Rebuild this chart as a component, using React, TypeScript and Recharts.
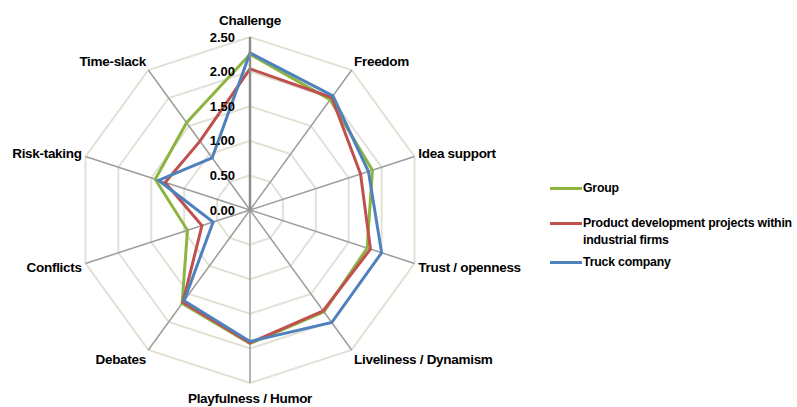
import React from 'react';
import {
  RadarChart,
  Radar,
  PolarGrid,
  PolarAngleAxis,
  PolarRadiusAxis,
  Legend,
} from 'recharts';

const categories = [
  'Challenge',
  'Freedom',
  'Idea support',
  'Trust / openness',
  'Liveliness / Dynamism',
  'Playfulness / Humor',
  'Debates',
  'Conflicts',
  'Risk-taking',
  'Time-slack',
];

const groupValues = [2.25, 1.97, 1.86, 1.78, 1.82, 1.93, 1.67, 0.95, 1.44, 1.56];
const productDevValues = [2.04, 2.01, 1.68, 1.83, 1.8, 1.92, 1.65, 0.73, 1.29, 1.23];
const truckValues = [2.27, 2.04, 1.8, 2.0, 2.01, 1.9, 1.62, 0.56, 1.39, 0.93];

const radiusTicks = [0, 0.5, 1, 1.5, 2, 2.5];

const series = [
  { key: 'group', name: 'Group', color: '#8DB440' },
  { key: 'product', name: 'Product development projects within industrial firms', color: '#C0504D' },
  { key: 'truck', name: 'Truck company', color: '#4F81BD' },
];

const data = categories.map((subject, i) => ({
  subject,
  group: groupValues[i],
  product: productDevValues[i],
  truck: truckValues[i],
}));

const CX = 250;
const CY = 210;
const R = 173;
const FONT = '"Liberation Sans", Arial, sans-serif';

const AngleTick = (props: any) => {
  const { payload } = props;
  const deg = payload.coordinate;
  const rad = (deg * Math.PI) / 180;
  const cos = Math.cos(rad);
  const sin = Math.sin(rad);
  const x = CX + (R + 4) * cos;
  const y = CY - (R + 4) * sin;
  let anchor: 'start' | 'end' | 'middle' = 'middle';
  if (cos > 0.1) anchor = 'start';
  else if (cos < -0.1) anchor = 'end';
  let dy = -sin * 7 + 0.5;
  if (sin > 0.99) dy = -13;
  if (sin < -0.99) dy = 11;
  return (
    <text
      x={x}
      y={y + dy}
      textAnchor={anchor}
      dominantBaseline="central"
      fontFamily={FONT}
      fontWeight={700}
      fontSize={13.5}
      letterSpacing={-0.3}
      fill="#000"
    >
      {payload.value}
    </text>
  );
};

const RadiusTick = (props: any) => {
  const { x, y, payload } = props;
  return (
    <text
      x={x - 15}
      y={y}
      textAnchor="end"
      dominantBaseline="central"
      fontFamily={FONT}
      fontWeight={700}
      fontSize={13}
      fill="#000"
    >
      {Number(payload.value).toFixed(2)}
    </text>
  );
};

const legendRows = [
  { top: 0, lines: ['Group'] },
  { top: 35, lines: ['Product development projects within', 'industrial firms'] },
  { top: 74, lines: ['Truck company'] },
];

const renderLegend = () => (
  <div style={{ position: 'relative', width: 247, height: 100, fontFamily: FONT, fontWeight: 700, fontSize: 12.3 }}>
    {series.map((s, i) => (
      <div key={s.key} style={{ position: 'absolute', left: 0, top: legendRows[i].top }}>
        <div
          style={{
            position: 'absolute',
            left: 0,
            top: 7,
            width: 32,
            height: 3,
            background: s.color,
          }}
        />
        <div style={{ position: 'absolute', left: 33, top: 0, whiteSpace: 'nowrap', lineHeight: '17px', letterSpacing: -0.2 }}>
          {legendRows[i].lines.map((l) => (
            <div key={l}>{l}</div>
          ))}
        </div>
      </div>
    ))}
  </div>
);

export default function App() {
  return (
    <div style={{ position: 'absolute', left: 0, top: 0, width: 797, height: 407, background: '#fff' }}>
      <RadarChart
        width={797}
        height={407}
        data={data}
        cx={CX}
        cy={CY}
        outerRadius={R}
        startAngle={90}
        endAngle={-270}
        margin={{ top: 0, right: 0, bottom: 0, left: 0 }}
      >
        <PolarGrid gridType="polygon" radialLines={false} stroke="#E3E1D5" strokeWidth={2} />
        <PolarGrid gridType="polygon" polarRadius={[0.01]} radialLines stroke="#9C9C9C" strokeWidth={1.5} />
        <PolarAngleAxis dataKey="subject" tick={<AngleTick />} tickLine={false} axisLine={false} />
        <PolarRadiusAxis
          angle={90}
          type="number"
          domain={[0, 2.5]}
          allowDecimals
          allowDataOverflow
          tickCount={6}
          ticks={radiusTicks as any}
          tick={<RadiusTick />}
          tickLine={false}
          axisLine={{ stroke: '#8C8C8C', strokeWidth: 2.5 }}
        />
        {series.map((s) => (
          <Radar
            key={s.key}
            name={s.name}
            dataKey={s.key}
            stroke={s.color}
            strokeWidth={3}
            fill="none"
            fillOpacity={0}
            dot={false}
            isAnimationActive={false}
          />
        ))}
        <Legend
          layout="vertical"
          align="right"
          verticalAlign="top"
          content={renderLegend}
          wrapperStyle={{ position: 'absolute', left: 550, top: 180, width: 247 }}
        />
      </RadarChart>
    </div>
  );
}
